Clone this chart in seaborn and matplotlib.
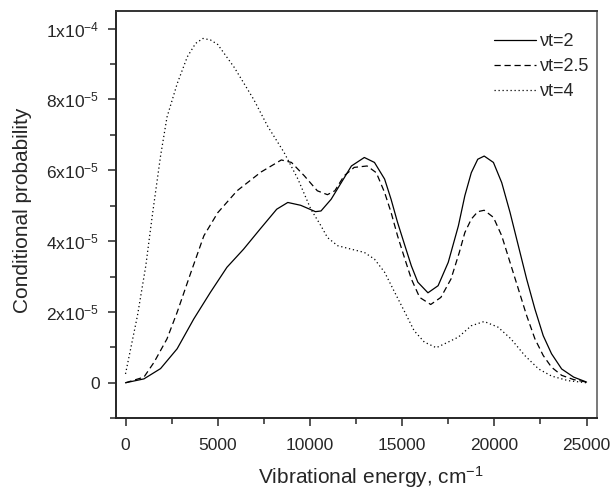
import numpy as np
import pandas as pd
import matplotlib
matplotlib.use("Agg")
import matplotlib.pyplot as plt
import seaborn as sns
from matplotlib.ticker import MultipleLocator, FuncFormatter

# values (energy in cm^-1, probability in units of 1e-5)
x_vt2 = [0, 1000, 1900, 2800, 3700, 4600, 5500, 6400, 7300, 8200, 8800, 9500, 10300,
         10600, 11150, 11700, 12250, 12950, 13500, 14050, 14400, 14750, 15150, 15500,
         15850, 16400, 16950, 17500, 18050, 18400, 18750, 19100, 19450, 19950, 20400,
         20850, 21300, 21750, 22200, 22650, 23100, 23650, 24300, 25000]
y_vt2 = [0.0, 0.11, 0.40, 0.96, 1.80, 2.55, 3.26, 3.77, 4.34, 4.90, 5.09, 5.01, 4.83,
         4.85, 5.18, 5.65, 6.12, 6.36, 6.22, 5.75, 5.18, 4.53, 3.87, 3.30,
         2.84, 2.54, 2.74, 3.40, 4.43, 5.28, 5.93, 6.31, 6.40, 6.22, 5.65,
         4.81, 3.87, 2.93, 2.08, 1.33, 0.82, 0.39, 0.16, 0.02]

x_vt25 = [0, 1000, 1550, 2250, 2800, 3550, 4250, 5000, 6050, 7350, 8450, 9000, 9700,
          10400, 10950, 11350, 11850, 12400, 13100, 13600, 14050, 14400, 14750, 15150,
          15500, 15950, 16550, 17100, 17650, 18100, 18400, 18750, 19100, 19450, 19950,
          20400, 20850, 21300, 21750, 22200, 22650, 23100, 23650, 24300, 25000]
y_vt25 = [0.0, 0.16, 0.58, 1.24, 1.99, 3.12, 4.15, 4.80, 5.42, 5.95, 6.29, 6.22, 5.84,
          5.42, 5.31, 5.42, 5.84, 6.08, 6.12, 5.93, 5.37, 4.81, 4.15, 3.49,
          2.93, 2.41, 2.21, 2.41, 2.93, 3.68, 4.24, 4.62, 4.83, 4.87, 4.67,
          4.15, 3.40, 2.65, 1.90, 1.24, 0.77, 0.44, 0.21, 0.09, 0.02]

x_vt4 = [0, 650, 1100, 1450, 1900, 2250, 2800, 3350, 3800, 4200, 4600, 5000, 5900,
         6950, 7700, 8600, 9350, 10050, 10600, 10950, 11500, 12250, 12950, 13500, 14050,
         14600, 15150, 15650, 16200, 16850, 17500, 18050, 18750, 19450, 20200, 20900,
         21650, 22400, 23100, 24000, 25000]
y_vt4 = [0.25, 1.90, 3.30, 4.71, 6.40, 7.50, 8.44, 9.20, 9.58, 9.72, 9.68, 9.55, 8.90,
         8.00, 7.25, 6.50, 5.75, 4.90, 4.43, 4.10, 3.87, 3.77, 3.68, 3.49, 3.12,
         2.55, 1.99, 1.47, 1.15, 0.99, 1.15, 1.29, 1.61, 1.73, 1.57, 1.24,
         0.77, 0.39, 0.19, 0.06, 0.0]

labels = ["\u03bdt=2", "\u03bdt=2.5", "\u03bdt=4"]

sns.set_style("ticks")
plt.rcParams['font.family'] = ['Liberation Sans', 'DejaVu Sans']
plt.rcParams['mathtext.fontset'] = 'custom'
plt.rcParams['mathtext.rm'] = 'Liberation Sans'
plt.rcParams['mathtext.it'] = 'Liberation Sans:italic'

fig = plt.figure(figsize=(6.12, 4.92), dpi=100)
ax = fig.add_axes([0.19, 0.150, 0.785, 0.828])

styles = ["-", (0, (5, 3)), (0, (1, 2.2))]
for xs, ys, lab, ls in zip([x_vt2, x_vt25, x_vt4], [y_vt2, y_vt25, y_vt4], labels, styles):
    df = pd.DataFrame({"x": xs, "y": np.array(ys) * 1e-5})
    sns.lineplot(data=df, x="x", y="y", ax=ax, color="black", linewidth=0.9,
                 linestyle=ls, label=lab, sort=False)

ax.set_xlim(-500, 25550)
ax.set_ylim(-1.0e-5, 1.05e-4)
ax.xaxis.set_major_locator(MultipleLocator(5000))
ax.xaxis.set_minor_locator(MultipleLocator(2500))
ax.yaxis.set_major_locator(MultipleLocator(2e-5))
ax.yaxis.set_minor_locator(MultipleLocator(1e-5))


def yfmt(v, pos):
    if abs(v) < 1e-12:
        return "0"
    e = int(np.floor(np.log10(abs(v)) + 1e-9))
    m = int(round(v / 10 ** e))
    return f"{m}x10$^{{{e}}}$"


ax.yaxis.set_major_formatter(FuncFormatter(yfmt))
ax.tick_params(which="major", direction="out", length=6, width=1.1, labelsize=12.5)
ax.tick_params(axis="y", which="major", pad=6)
ax.tick_params(axis="x", which="major", pad=8)
ax.tick_params(which="minor", direction="out", length=4.5, width=1.1)
for s in ax.spines.values():
    s.set_linewidth(1.4)
ax.spines["right"].set_color("#555555")
ax.spines["right"].set_linewidth(1.1)
ax.spines["top"].set_color("#333333")

ax.set_xlabel("Vibrational energy, cm$^{-1}$", fontsize=15)
ax.set_ylabel("Conditional probability", fontsize=15)
ax.xaxis.set_label_coords(0.53, -0.112)
ax.yaxis.set_label_coords(-0.175, 0.51)

leg = ax.legend(loc="upper right", bbox_to_anchor=(0.985, 0.945), frameon=False,
                fontsize=13, handlelength=2.3, handletextpad=0.25, labelspacing=0.45,
                borderaxespad=0, borderpad=0)

fig.savefig("out.png", dpi=100)
